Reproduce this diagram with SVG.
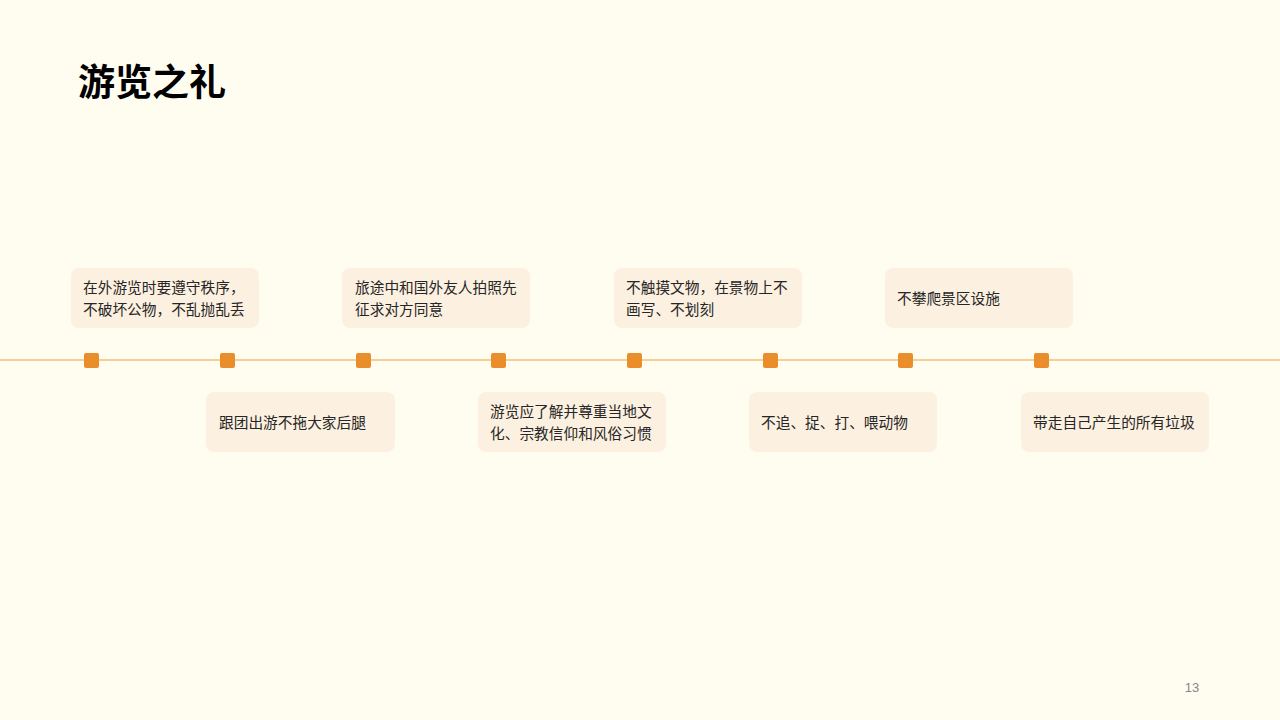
<svg xmlns="http://www.w3.org/2000/svg" width="1280" height="720" viewBox="0 0 1280 720">
<style>
.box{fill:#fcf0e0}
.dot{fill:#e98e2a}
.t{font-family:"Noto Sans CJK SC","Liberation Sans",sans-serif;font-size:14.7px;fill:#262626}
</style>
<rect width="1280" height="720" fill="#fffcf0"/>
<text x="78" y="96" font-family="Noto Sans CJK SC,sans-serif" font-size="37" font-weight="bold" fill="#000">游览之礼</text>
<g id="connectors"><line x1="0" y1="360" x2="1280" y2="360" stroke="#f0a040" stroke-width="1.2"/></g>
<g id="dots">
<rect class="dot" x="84" y="353" width="15" height="15" rx="2"/>
<rect class="dot" x="220" y="353" width="15" height="15" rx="2"/>
<rect class="dot" x="356" y="353" width="15" height="15" rx="2"/>
<rect class="dot" x="491" y="353" width="15" height="15" rx="2"/>
<rect class="dot" x="627" y="353" width="15" height="15" rx="2"/>
<rect class="dot" x="763" y="353" width="15" height="15" rx="2"/>
<rect class="dot" x="898" y="353" width="15" height="15" rx="2"/>
<rect class="dot" x="1034" y="353" width="15" height="15" rx="2"/>
</g>
<g id="n1"><rect class="box" x="71" y="268" width="188" height="60" rx="8"/><text class="t" x="83" y="293">在外游览时要遵守秩序，</text><text class="t" x="83" y="315">不破坏公物，不乱抛乱丢</text></g>
<g id="n2"><rect class="box" x="206" y="392" width="189" height="60" rx="8"/><text class="t" x="219" y="428">跟团出游不拖大家后腿</text></g>
<g id="n3"><rect class="box" x="342" y="268" width="188" height="60" rx="8"/><text class="t" x="355" y="293">旅途中和国外友人拍照先</text><text class="t" x="355" y="315">征求对方同意</text></g>
<g id="n4"><rect class="box" x="478" y="392" width="188" height="60" rx="8"/><text class="t" x="490" y="417">游览应了解并尊重当地文</text><text class="t" x="490" y="439">化、宗教信仰和风俗习惯</text></g>
<g id="n5"><rect class="box" x="614" y="268" width="188" height="60" rx="8"/><text class="t" x="626" y="293">不触摸文物，在景物上不</text><text class="t" x="626" y="315">画写、不划刻</text></g>
<g id="n6"><rect class="box" x="749" y="392" width="188" height="60" rx="8"/><text class="t" x="761" y="428">不追、捉、打、喂动物</text></g>
<g id="n7"><rect class="box" x="885" y="268" width="188" height="60" rx="8"/><text class="t" x="897" y="304">不攀爬景区设施</text></g>
<g id="n8"><rect class="box" x="1021" y="392" width="188" height="60" rx="8"/><text class="t" x="1033" y="428">带走自己产生的所有垃圾</text></g>
<text x="1192" y="692" font-family="Liberation Sans,sans-serif" font-size="13" fill="#888" text-anchor="middle">13</text>
</svg>
